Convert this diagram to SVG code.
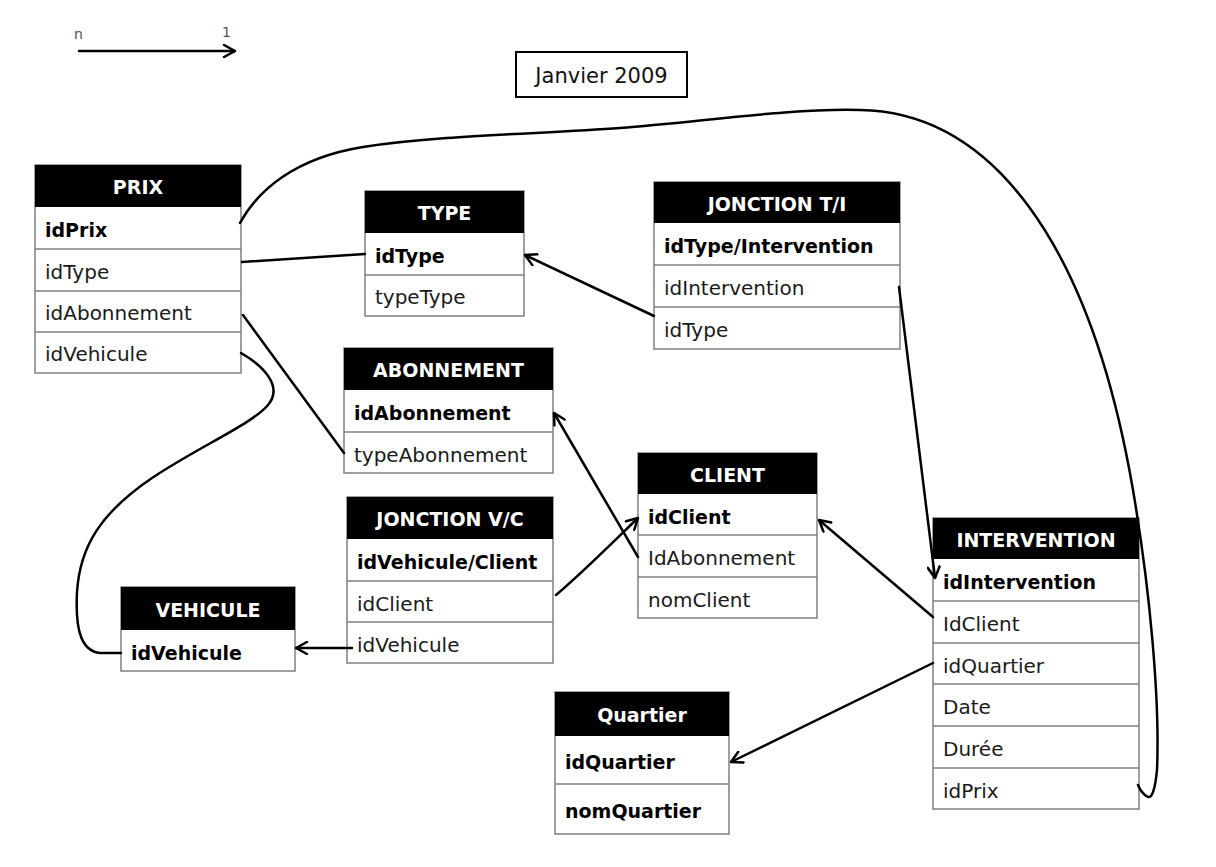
<svg xmlns="http://www.w3.org/2000/svg" width="1216" height="867" viewBox="0 0 1216 867">
<defs>
<style>
.box{fill:#fff;stroke:#808080;stroke-width:1.5}
.hdr{fill:#000}
.sep{stroke:#808080;stroke-width:1.5}
.ht{font-family:"DejaVu Sans",sans-serif;font-weight:bold;font-size:19px;fill:#fff;text-anchor:middle}
.b{font-family:"DejaVu Sans",sans-serif;font-weight:bold;font-size:19px;fill:#000}
.r{font-family:"DejaVu Sans",sans-serif;font-size:20px;fill:#1a1a1a}
.c{fill:none;stroke:#000;stroke-width:2.5;stroke-linecap:round}
.a{marker-end:url(#arr)}
</style>
<marker id="arr" markerUnits="userSpaceOnUse" viewBox="0 0 14 14" refX="13" refY="7" markerWidth="14" markerHeight="14" orient="auto">
<path d="M2,1 L13,7 L2,13" fill="none" stroke="#000" stroke-width="2.5" stroke-linecap="round" stroke-linejoin="round"/>
</marker>
</defs>
<rect width="1216" height="867" fill="#fff"/>

<g id="legend">
<line class="c a" x1="79" y1="51" x2="235" y2="51"/>
<text x="74" y="39" font-family="DejaVu Sans,sans-serif" font-size="14" fill="#555">n</text>
<text x="222" y="37" font-family="DejaVu Sans,sans-serif" font-size="14" fill="#555">1</text>
</g>

<g id="title">
<rect x="516" y="52" width="171" height="45" fill="#fff" stroke="#000" stroke-width="2"/>
<text x="601.5" y="83" font-family="DejaVu Sans,sans-serif" font-size="21" fill="#111" text-anchor="middle">Janvier 2009</text>
</g>

<g id="prix">
<rect class="box" x="35" y="165" width="206" height="208"/>
<rect class="hdr" x="35" y="165" width="206" height="42"/>
<line class="sep" x1="35" y1="249" x2="241" y2="249"/>
<line class="sep" x1="35" y1="291" x2="241" y2="291"/>
<line class="sep" x1="35" y1="332" x2="241" y2="332"/>
<text class="ht" x="138" y="194">PRIX</text>
<text class="b" x="45" y="237">idPrix</text>
<text class="r" x="45" y="279">idType</text>
<text class="r" x="45" y="320">idAbonnement</text>
<text class="r" x="45" y="361">idVehicule</text>
</g>

<g id="type">
<rect class="box" x="365" y="191" width="159" height="125"/>
<rect class="hdr" x="365" y="191" width="159" height="42"/>
<line class="sep" x1="365" y1="275" x2="524" y2="275"/>
<text class="ht" x="444.5" y="220">TYPE</text>
<text class="b" x="375" y="263">idType</text>
<text class="r" x="375" y="304">typeType</text>
</g>

<g id="jonction-ti">
<rect class="box" x="654" y="182" width="246" height="167"/>
<rect class="hdr" x="654" y="182" width="246" height="41"/>
<line class="sep" x1="654" y1="265" x2="900" y2="265"/>
<line class="sep" x1="654" y1="307" x2="900" y2="307"/>
<text class="ht" x="777" y="210.5">JONCTION T/I</text>
<text class="b" x="664" y="253">idType/Intervention</text>
<text class="r" x="664" y="295">idIntervention</text>
<text class="r" x="664" y="337">idType</text>
</g>

<g id="abonnement">
<rect class="box" x="344" y="348" width="209" height="125"/>
<rect class="hdr" x="344" y="348" width="209" height="42"/>
<line class="sep" x1="344" y1="432" x2="553" y2="432"/>
<text class="ht" x="448.5" y="377">ABONNEMENT</text>
<text class="b" x="354" y="420">idAbonnement</text>
<text class="r" x="354" y="461.5">typeAbonnement</text>
</g>

<g id="client">
<rect class="box" x="638" y="453" width="179" height="165"/>
<rect class="hdr" x="638" y="453" width="179" height="41"/>
<line class="sep" x1="638" y1="535" x2="817" y2="535"/>
<line class="sep" x1="638" y1="577" x2="817" y2="577"/>
<text class="ht" x="727.5" y="481.5">CLIENT</text>
<text class="b" x="648" y="523.5">idClient</text>
<text class="r" x="648" y="565">IdAbonnement</text>
<text class="r" x="648" y="606.5">nomClient</text>
</g>

<g id="jonction-vc">
<rect class="box" x="347" y="497" width="206" height="166"/>
<rect class="hdr" x="347" y="497" width="206" height="42"/>
<line class="sep" x1="347" y1="581" x2="553" y2="581"/>
<line class="sep" x1="347" y1="622" x2="553" y2="622"/>
<text class="ht" x="450" y="526">JONCTION V/C</text>
<text class="b" x="357" y="569">idVehicule/Client</text>
<text class="r" x="357" y="610.5">idClient</text>
<text class="r" x="357" y="651.5">idVehicule</text>
</g>

<g id="vehicule">
<rect class="box" x="121" y="587" width="174" height="84"/>
<rect class="hdr" x="121" y="587" width="174" height="43"/>
<text class="ht" x="208" y="616.5">VEHICULE</text>
<text class="b" x="131" y="659.5">idVehicule</text>
</g>

<g id="intervention">
<rect class="box" x="933" y="518" width="206" height="291"/>
<rect class="hdr" x="933" y="518" width="206" height="41"/>
<line class="sep" x1="933" y1="601" x2="1139" y2="601"/>
<line class="sep" x1="933" y1="643" x2="1139" y2="643"/>
<line class="sep" x1="933" y1="684" x2="1139" y2="684"/>
<line class="sep" x1="933" y1="726" x2="1139" y2="726"/>
<line class="sep" x1="933" y1="768" x2="1139" y2="768"/>
<text class="ht" x="1036" y="546.5">INTERVENTION</text>
<text class="b" x="943" y="589">idIntervention</text>
<text class="r" x="943" y="631">IdClient</text>
<text class="r" x="943" y="672.5">idQuartier</text>
<text class="r" x="943" y="714">Date</text>
<text class="r" x="943" y="756">Durée</text>
<text class="r" x="943" y="797.5">idPrix</text>
</g>

<g id="quartier">
<rect class="box" x="555" y="692" width="174" height="142"/>
<rect class="hdr" x="555" y="692" width="174" height="44"/>
<line class="sep" x1="555" y1="784" x2="729" y2="784"/>
<text class="ht" x="642" y="722">Quartier</text>
<text class="b" x="565" y="769">idQuartier</text>
<text class="b" x="565" y="818">nomQuartier</text>
</g>

<g id="connectors">
<line class="c" x1="242" y1="262" x2="365" y2="254"/>
<line class="c a" x1="654" y1="316" x2="525" y2="255"/>
<line class="c a" x1="899" y1="287" x2="935" y2="578"/>
<line class="c" x1="243" y1="315" x2="344" y2="453"/>
<line class="c a" x1="638" y1="557" x2="554" y2="413"/>
<path class="c a" d="M556,595 C580,575 610,545 638,518"/>
<line class="c a" x1="352" y1="648" x2="296" y2="648"/>
<path class="c" d="M241,353 C262,365 284,386 268,405 C252,424 200,446 152,478 C102,512 80,545 77,592 C75,632 82,651 100,653 L121,653"/>
<line class="c a" x1="933" y1="617" x2="819" y2="520"/>
<line class="c a" x1="933" y1="663" x2="731" y2="762"/>
<path class="c" d="M240,223 C258,190 295,158 363,147 C440,135 540,134 620,128 C700,122 790,108 860,110 C990,112 1090,240 1133,490 C1150,590 1160,700 1157,770 C1155,790 1152,798 1148,797 C1144,795 1140,790 1138,785"/>
</g>
</svg>
